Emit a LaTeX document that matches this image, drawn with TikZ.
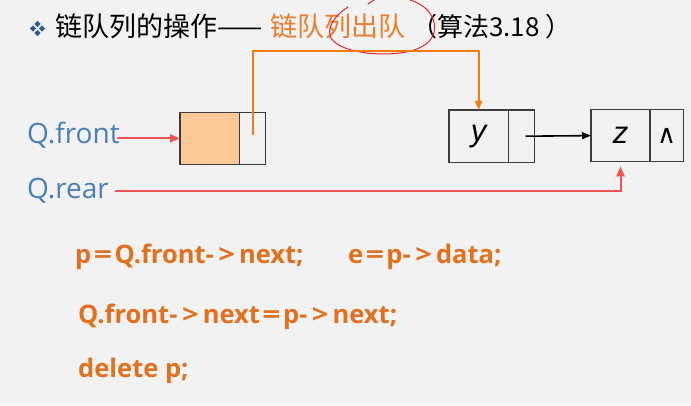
\documentclass[tikz,border=0pt]{standalone}
\usepackage{fontspec}
\setmainfont{Open Sans}
\newfontfamily\cjk{Noto Sans CJK SC}
\newfontfamily\arialish{Liberation Sans}
\newfontfamily\dejavu{DejaVu Sans}
\usetikzlibrary{arrows.meta,calc}
\definecolor{bgc}{HTML}{F2F2F2}
\definecolor{torange}{HTML}{EB7D2E}
\definecolor{corange}{HTML}{E2701F}
\definecolor{lorange}{HTML}{F57A14}
\definecolor{qblue}{HTML}{4A7EBB}
\definecolor{rline}{HTML}{F05454}
\definecolor{peach}{HTML}{FCC996}
\definecolor{cellborder}{HTML}{3C3C3C}
\definecolor{bulletc}{HTML}{2F5A96}
\definecolor{annot}{HTML}{E8262A}
\newcommand{\cEq}{\hspace{2.5pt}\scalebox{1.25}[1]{=}\hspace{2.5pt}}
\newcommand{\cArr}{-\hspace{4.5pt}\scalebox{1.15}[1]{>}\hspace{4pt}}
\tikzset{
  cell/.style={draw=cellborder, line width=1.2pt, minimum height=52.5pt, inner sep=0pt, outer sep=0pt},
  qlabel/.style={anchor=base west, inner sep=0pt, text=qblue, font=\fontsize{28}{32}\selectfont},
  codeline/.style={anchor=base west, inner sep=0pt, text=corange, font=\bfseries\fontsize{25.5}{30}\selectfont},
  titlepart/.style={anchor=base west, inner sep=0pt, font=\cjk\fontsize{27}{31}\selectfont},
  redarrow/.style={draw=rline, line width=2pt, -{Triangle[length=10pt,width=8pt]}},
  orangearrow/.style={draw=lorange, line width=2pt, -{Triangle[length=9pt,width=7pt]}},
  blackarrow/.style={draw=black, line width=1.6pt, -{Triangle[length=9pt,width=7pt]}},
  celltext/.style={font=\arialish\itshape\fontsize{31}{35}\selectfont}
}
\begin{document}
\begin{tikzpicture}[x=1pt,y=-1pt]
\fill[bgc] (0,0) rectangle (691,405);
\useasboundingbox (0,0) rectangle (691,405);

% bullet
\foreach \dx/\dy in {0/-4.5,0/4.5,-4.5/0,4.5/0}
  \fill[bulletc] ($(37.5,28.5)+(\dx,\dy)$) +(0,-3.2) -- +(3.2,0) -- +(0,3.2) -- +(-3.2,0) -- cycle;

% title
\node[titlepart] (title1) at (55,36) {链队列的操作——};
\node[titlepart, text=torange] (title2) at (270,36) {链队列出队};
\node[titlepart, font=\cjk\fontsize{26}{31}\selectfont] (title3) at (411,36) {（算法3.18 ）};

% hand-drawn annotation
\draw[annot, line width=1pt, line cap=round] (348,7) .. controls (335,15) and (326,28) .. (331,38)
  .. controls (340,52) and (375,56) .. (400,53)
  .. controls (425,50) and (438,38) .. (434,22)
  .. controls (431,10) and (420,3) .. (410,0);
\draw[annot, line width=1pt, line cap=round] (368,4) -- (374,0);

% first node (head)
\node[cell, fill=peach, minimum width=59.3pt] (n1data) at (209.65,138.4) {};
\node[cell, minimum width=26.4pt, anchor=west] (n1ptr) at (n1data.east) {};

% node y
\node[cell, minimum width=59.3pt, celltext] (ydata) at (478.65,136.2) {y};
\node[cell, minimum width=26.4pt, anchor=west] (yptr) at (ydata.east) {};

% node z
\node[cell, minimum width=59pt, celltext] (zdata) at (620.5,135.6) {z};
\node[cell, minimum width=33.3pt, anchor=west, font=\dejavu\fontsize{26}{30}\selectfont] (zptr) at (zdata.east) {∧};

% labels
\node[qlabel] (Qfront) at (27,143) {Q.front};
\node[qlabel] (Qrear) at (27,198) {Q.rear};

% connectors
\draw[orangearrow] ($(n1ptr.center)+(0,-3)$) |- ($(ydata.north)+(0,-59)$) -- (ydata.north);
\draw[redarrow] ($(Qfront.east |- n1data.west)+(-3,0)$) -- (n1data.west);
\coordinate (rs) at (115,190.7);
\draw[redarrow] (rs) -| ($(zdata.south)+(0,4.5)$);
\draw[blackarrow] ($(yptr.center)+(4,0)$) -- (zdata.west);

% code
\node[codeline] (c1) at (75,263) {p\cEq Q.front\cArr next;};
\node[codeline] (c2) at (348,263) {e\cEq p\cArr data;};
\node[codeline] (c3) at (78,323) {Q.front\cArr next\cEq p\cArr next;};
\node[codeline] (c4) at (78,377) {delete p;};
\end{tikzpicture}
\end{document}
